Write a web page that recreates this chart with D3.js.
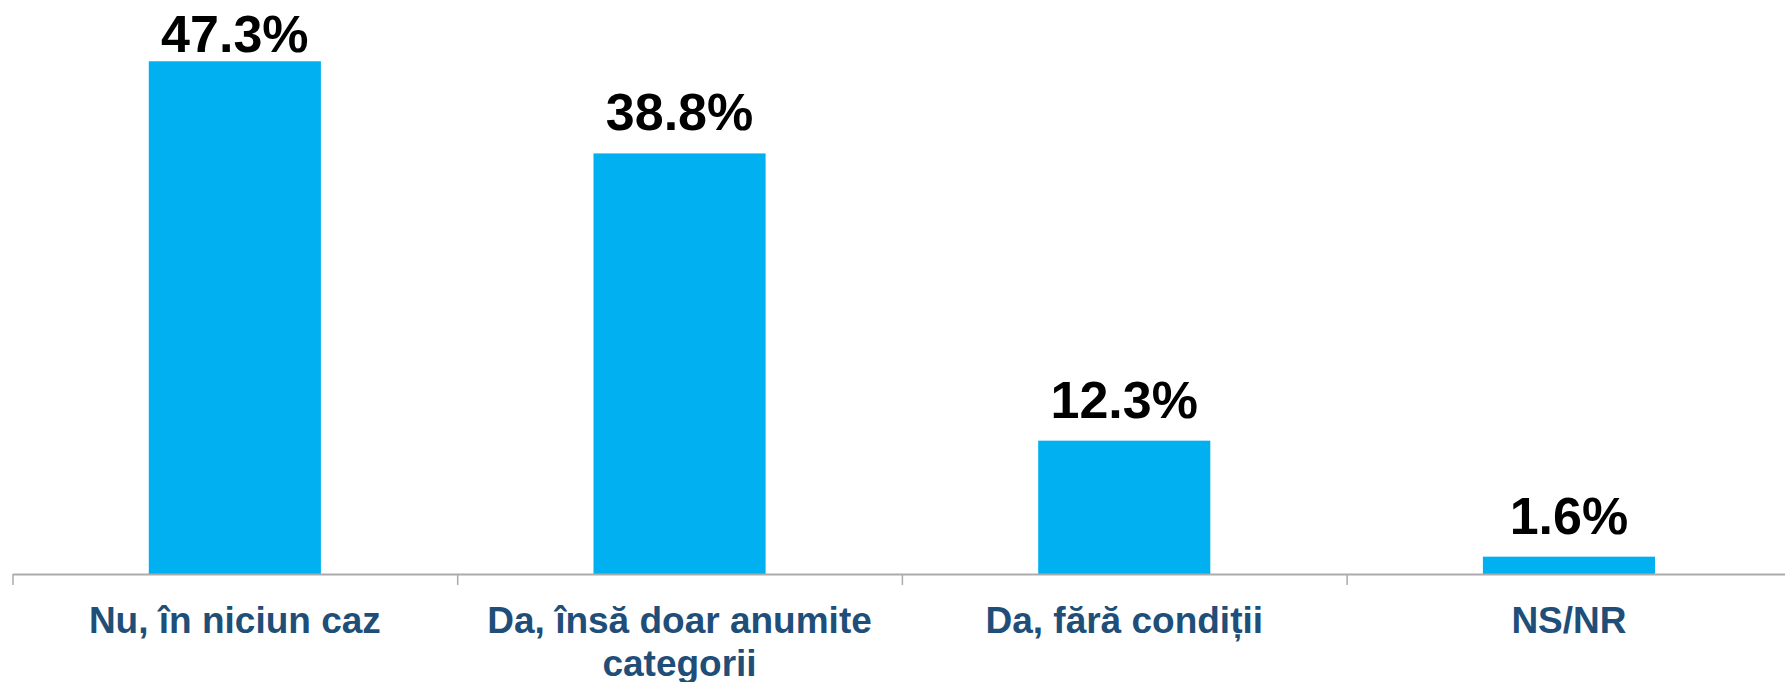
<!DOCTYPE html>
<html>
<head>
<meta charset="utf-8">
<script src="https://cdn.jsdelivr.net/npm/d3@7"></script>
<style>
  html, body { margin: 0; padding: 0; background: #fff; }
  svg { display: block; }
</style>
</head>
<body>
<svg id="chart" width="1785" height="682"></svg>
<script>
const categories = ["Nu, în niciun caz", "Da, însă doar anumite categorii", "Da, fără condiții", "NS/NR"];
const values = [47.3, 38.8, 12.3, 1.6];
const valueLabels = ["47.3%", "38.8%", "12.3%", "1.6%"];

const W = 1785, H = 682;
const svg = d3.select("#chart");
const x0 = 12.5, x1 = 1791.3, baseY = 574;
const pad = 0.613;

const x = d3.scaleBand().domain(categories).range([x0, x1]).paddingInner(pad).paddingOuter(pad / 2);
const y = d3.scaleLinear().domain([0, 50]).range([baseY, baseY - 50 * 10.84]);

// bars
svg.selectAll("rect.bar").data(values).join("rect")
  .attr("class", "bar")
  .attr("x", (d, i) => x(categories[i]))
  .attr("width", x.bandwidth())
  .attr("y", d => y(d))
  .attr("height", d => y(0) - y(d))
  .attr("fill", "#00B0F0");

// axis with ticks on category boundaries
const bounds = d3.range(categories.length + 1).map(i => x0 + i * x.step());
const xl = d3.scaleLinear().domain([x0, x1]).range([x0, x1]);
const axis = svg.append("g").attr("transform", `translate(0,${baseY})`)
  .call(d3.axisBottom(xl).tickValues(bounds).tickSize(11).tickSizeOuter(0).tickFormat(""));
axis.select(".domain").attr("stroke", "#ababab").attr("stroke-width", 2);
axis.selectAll(".tick line").attr("stroke", "#ababab").attr("stroke-width", 1.5);

// value labels (clamped inside top of chart)
svg.selectAll("text.val").data(values).join("text")
  .attr("class", "val")
  .attr("x", (d, i) => x(categories[i]) + x.bandwidth() / 2)
  .attr("y", d => Math.max(y(d) - 23, 52))
  .attr("text-anchor", "middle")
  .attr("font-family", "Liberation Sans, Arial, sans-serif")
  .attr("font-weight", "bold")
  .attr("font-size", 52)
  .attr("fill", "#000")
  .text((d, i) => valueLabels[i]);

// category labels with wrapping
const maxW = x.step() * 0.95;
categories.forEach((c, i) => {
  const cx = x(c) + x.bandwidth() / 2;
  const t = svg.append("text")
    .attr("x", cx)
    .attr("y", 633)
    .attr("text-anchor", "middle")
    .attr("font-family", "Liberation Sans, Arial, sans-serif")
    .attr("font-weight", "bold")
    .attr("font-size", 37)
    .attr("fill", "#1F4E79");
  const words = c.split(" ");
  let line = [];
  let ts = t.append("tspan").attr("x", cx).attr("dy", 0);
  words.forEach(w => {
    line.push(w);
    ts.text(line.join(" "));
    if (ts.node().getComputedTextLength() > maxW && line.length > 1) {
      line.pop();
      ts.text(line.join(" "));
      line = [w];
      ts = t.append("tspan").attr("x", cx).attr("dy", 43).text(w);
    }
  });
});
</script>
</body>
</html>
